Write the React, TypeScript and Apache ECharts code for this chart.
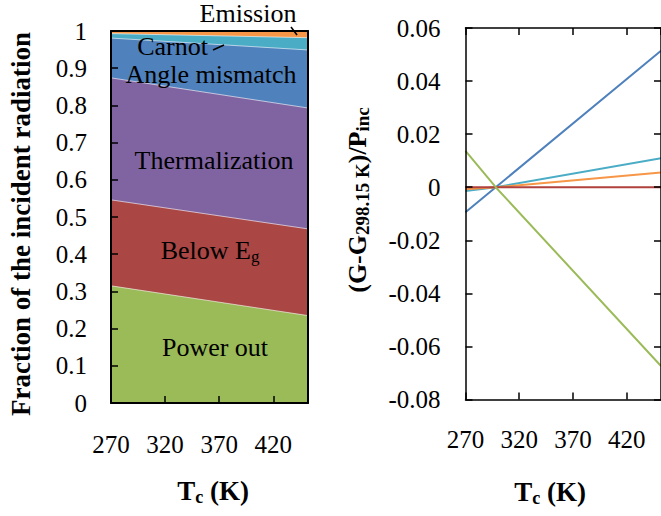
import React, { useEffect, useRef } from "react";
import * as echarts from "echarts";

// ---- data ----
const T_MIN = 270;
const T_MAX = 452;

// left panel: fractions of incident radiation (stacked, bottom to top)
const tempsArea = [270, 452];
const powerOut = [0.315, 0.235];
const belowEg = [0.231, 0.233];
const thermalization = [0.328, 0.325];
const angleMismatch = [0.107, 0.156];
const carnot = [0.012, 0.033];
const emission = [0.007, 0.018];

// right panel: (G - G_298.15K)/P_inc
const tempsDiff = [270, 298.15, 452];
const dAngle = [-0.0094, 0, 0.0514];
const dCarnot = [-0.0014, 0, 0.0109];
const dEmission = [-0.0008, 0, 0.0055];
const dBelowEg = [0, 0, 0];
const dPowerOut = [0.0137, 0, -0.0674];

const areaSeries = [
  { name: "Power out", values: powerOut, color: "#9BBB59" },
  { name: "Below Eg", values: belowEg, color: "#AA4644" },
  { name: "Thermalization", values: thermalization, color: "#8064A2" },
  { name: "Angle mismatch", values: angleMismatch, color: "#4F81BD" },
  { name: "Carnot", values: carnot, color: "#4BACC6" },
  { name: "Emission", values: emission, color: "#F79646" },
];

const lineSeries = [
  { name: "Angle mismatch", values: dAngle, color: "#4F81BD" },
  { name: "Carnot", values: dCarnot, color: "#4BACC6" },
  { name: "Emission", values: dEmission, color: "#F79646" },
  { name: "Below Eg", values: dBelowEg, color: "#B0413E" },
  { name: "Power out", values: dPowerOut, color: "#9BBB59" },
];

const FONT = '"Liberation Serif", "Times New Roman", serif';

const toPts = (ts: number[], vs: number[]) => ts.map((t, i) => [t - T_MIN, vs[i]]);

// cumulative tops of the stacked layers, built from the arrays above
const cumulative = areaSeries.map((_, k) =>
  tempsArea.map((_, i) => areaSeries.slice(0, k + 1).reduce((acc, s) => acc + s.values[i], 0))
);

function xAxisDef(gridIndex: number, position: string, showLabels: boolean, showTicks: boolean, lw: number, margin: number) {
  return {
    type: "value",
    gridIndex,
    position,
    min: 0,
    max: T_MAX - T_MIN,
    interval: 50,
    axisLine: { show: true, onZero: false, lineStyle: { color: "#000", width: lw } },
    axisTick: { show: showTicks, inside: true, length: 7, lineStyle: { color: "#000", width: 1.5 } },
    axisLabel: {
      show: showLabels,
      showMaxLabel: false,
      margin,
      color: "#000",
      fontFamily: FONT,
      fontSize: 25,
      formatter: (v: number) => String(Math.round(v + T_MIN)),
    },
    splitLine: { show: false },
    z: 10,
  };
}

function yAxisDef(gridIndex: number, position: string, min: number, max: number, interval: number, showLabels: boolean, showTicks: boolean, lw: number, fmt: (v: number) => string, margin: number) {
  return {
    type: "value",
    gridIndex,
    position,
    min,
    max,
    interval,
    axisLine: { show: true, onZero: false, lineStyle: { color: "#000", width: lw } },
    axisTick: { show: showTicks, inside: true, length: 7, lineStyle: { color: "#000", width: 1.5 } },
    axisLabel: { show: showLabels, margin, color: "#000", fontFamily: FONT, fontSize: 25, formatter: fmt },
    splitLine: { show: false },
    z: 10,
  };
}

const fmtLeft = (v: number) => String(Math.round(v * 10) / 10);
const fmtRight = (v: number) => {
  const r = Math.round(v * 100) / 100;
  return r === 0 ? "0" : r.toFixed(2);
};

const labelStyle = (text: string, extra: any = {}) => ({
  text,
  fill: "#000",
  fontFamily: FONT,
  fontSize: 26,
  align: "center",
  verticalAlign: "middle",
  ...extra,
});

export default function App() {
  const ref = useRef<HTMLDivElement>(null);

  useEffect(() => {
    if (!ref.current) return;
    const chart = echarts.init(ref.current, undefined, { renderer: "svg" });

    const subRich = (main: number, sub: number, bold: boolean) => ({
      b: { fontSize: main, fontWeight: bold ? "bold" : "normal", fontFamily: FONT, fill: "#000", lineHeight: 30 },
      s: { fontSize: sub, fontWeight: bold ? "bold" : "normal", fontFamily: FONT, fill: "#000", lineHeight: 8, verticalAlign: "bottom" },
    });

    // top layer first, so lower layers are painted over it
    const areaDefs = areaSeries
      .map((s, k) => ({
        type: "line",
        name: s.name,
        xAxisIndex: 0,
        yAxisIndex: 0,
        symbol: "none",
        data: toPts(tempsArea, cumulative[k]),
        lineStyle: { width: 1, color: "rgba(255,255,255,0.6)" },
        areaStyle: { color: s.color, opacity: 1, origin: "start" },
        z: 2,
      }))
      .reverse();

    const option: any = {
      animation: false,
      backgroundColor: "#fff",
      grid: [
        { left: 111, top: 31, width: 197, height: 372 },
        { left: 465.5, top: 28, width: 198, height: 371.5 },
      ],
      xAxis: [
        xAxisDef(0, "bottom", true, true, 2, 29),
        xAxisDef(0, "top", false, false, 2, 8),
        xAxisDef(1, "bottom", true, true, 1.5, 27),
        xAxisDef(1, "top", false, true, 1.5, 8),
      ],
      yAxis: [
        yAxisDef(0, "left", 0, 1, 0.1, true, true, 2, fmtLeft, 24),
        yAxisDef(0, "right", 0, 1, 0.1, false, false, 2, fmtLeft, 8),
        yAxisDef(1, "left", -0.08, 0.06, 0.02, true, true, 1.5, fmtRight, 25),
        yAxisDef(1, "right", -0.08, 0.06, 0.02, false, true, 1.5, fmtRight, 8),
      ],
      series: [
        ...areaDefs,
        ...lineSeries.map((s) => ({
          type: "line",
          name: s.name + " diff",
          xAxisIndex: 2,
          yAxisIndex: 2,
          symbol: "none",
          data: toPts(tempsDiff, s.values),
          lineStyle: { width: 2, color: s.color },
          z: 3,
        })),
      ],
      graphic: [
        // region labels of left panel
        { type: "text", z: 100, x: 248, y: 13, style: labelStyle("Emission") },
        { type: "text", z: 100, x: 172.5, y: 46, style: labelStyle("Carnot") },
        { type: "text", z: 100, x: 211, y: 74, style: labelStyle("Angle mismatch") },
        { type: "text", z: 100, x: 214, y: 160, style: labelStyle("Thermalization") },
        {
          type: "text", z: 100, x: 210, y: 250,
          style: labelStyle("{b|Below E}{s|g}", { rich: subRich(26, 17, false) }),
        },
        { type: "text", z: 100, x: 215, y: 347, style: labelStyle("Power out") },
        { type: "line", z: 100, shape: { x1: 291, y1: 27, x2: 297, y2: 35 }, style: { stroke: "#000", lineWidth: 1.5 } },
        { type: "line", z: 100, shape: { x1: 213, y1: 50, x2: 224, y2: 45 }, style: { stroke: "#000", lineWidth: 1.5 } },
        // axis titles
        {
          type: "text", z: 100, x: 21, y: 224, rotation: Math.PI / 2,
          style: labelStyle("Fraction of the incident radiation", { fontWeight: "bold", fontSize: 27 }),
        },
        {
          type: "text", z: 100, x: 213, y: 491,
          style: labelStyle("{b|T}{s|c}{b| (K)}", { rich: subRich(27, 18, true) }),
        },
        {
          type: "text", z: 100, x: 550, y: 492,
          style: labelStyle("{b|T}{s|c}{b| (K)}", { rich: subRich(27, 18, true) }),
        },
        {
          type: "text", z: 100, x: 357, y: 200, rotation: Math.PI / 2,
          style: labelStyle("{b|(G-G}{s|298.15 K}{b|)/P}{s|inc}", { rich: subRich(26, 19, true) }),
        },
      ],
    };

    chart.setOption(option);
    return () => chart.dispose();
  }, []);

  return (
    <div
      ref={ref}
      style={{ position: "fixed", left: 0, top: 0, width: 661, height: 516, background: "#fff" }}
    />
  );
}
